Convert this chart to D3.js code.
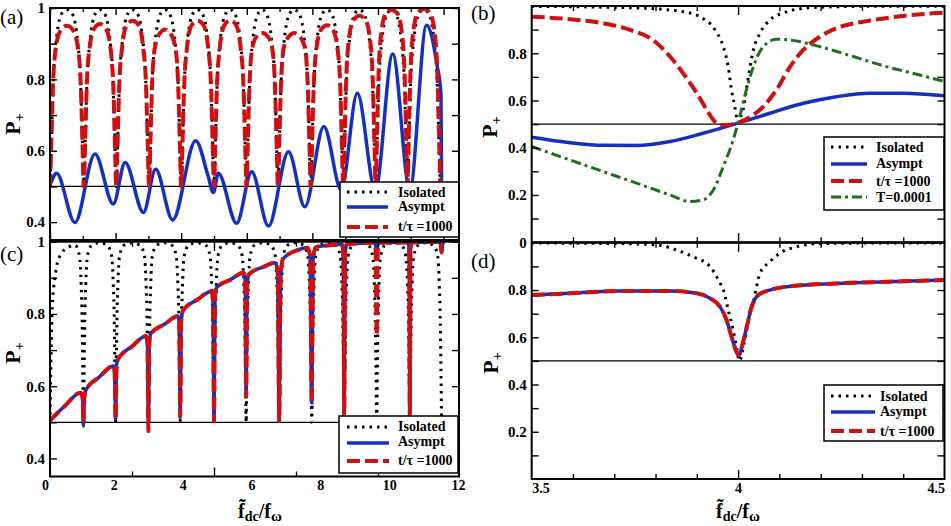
<!DOCTYPE html>
<html>
<head>
<meta charset="utf-8">
<script src="https://cdn.jsdelivr.net/npm/d3@7"></script>
<style>
body { margin: 0; background: #fff; }
svg text { font-family: "Liberation Serif", "DejaVu Serif", serif !important; }
</style>
</head>
<body>
<svg id="fig" width="951" height="526" font-family="Liberation Serif"></svg>
<script>
// ---------------- data ----------------
// panel (a): P+ vs f_dc/f_w (x in resonance units)
var aIsolated = [
  [0,0.5],[0.05,0.65],[0.1,0.8],[0.18,0.9],[0.36,0.985],[0.52,0.995],
  [0.67,0.985],[0.85,0.9],[0.93,0.8],[0.98,0.65],[1.03,0.5],[1.08,0.65],[1.13,0.8],[1.21,0.9],[1.39,0.985],[1.52,0.995],
  [1.66,0.985],[1.84,0.9],[1.92,0.8],[1.97,0.65],[2.02,0.5],[2.07,0.65],[2.12,0.8],[2.2,0.9],[2.38,0.985],[2.52,0.995],
  [2.66,0.985],[2.84,0.9],[2.92,0.8],[2.97,0.65],[3.02,0.5],[3.07,0.65],[3.12,0.8],[3.2,0.9],[3.38,0.985],[3.51,0.995],
  [3.64,0.985],[3.82,0.9],[3.9,0.8],[3.95,0.65],[4.0,0.5],[4.05,0.65],[4.1,0.8],[4.18,0.9],[4.36,0.985],[4.5,0.995],
  [4.64,0.985],[4.82,0.9],[4.9,0.8],[4.95,0.65],[5.0,0.5],[5.05,0.65],[5.1,0.8],[5.18,0.9],[5.36,0.985],[5.5,0.995],
  [5.63,0.985],[5.81,0.9],[5.89,0.8],[5.94,0.65],[5.99,0.5],[6.04,0.65],[6.09,0.8],[6.17,0.9],[6.35,0.985],[6.47,0.995],
  [6.59,0.985],[6.77,0.9],[6.85,0.8],[6.9,0.65],[6.95,0.5],[7.0,0.65],[7.05,0.8],[7.13,0.9],[7.31,0.985],[7.45,0.995],
  [7.59,0.985],[7.77,0.9],[7.85,0.8],[7.9,0.65],[7.95,0.5],[8.0,0.65],[8.05,0.8],[8.13,0.9],[8.31,0.985],[8.45,0.995],
  [8.58,0.985],[8.76,0.9],[8.84,0.8],[8.89,0.65],[8.94,0.5],[8.99,0.65],[9.04,0.8],[9.12,0.9],[9.3,0.985],[9.43,0.995],
  [9.57,0.985],[9.75,0.9],[9.83,0.8],[9.88,0.65],[9.93,0.5],[9.98,0.65],[10.03,0.8],[10.11,0.9],[10.29,0.985],[10.42,0.995],
  [10.54,0.985],[10.72,0.9],[10.8,0.8],[10.85,0.65],[10.9,0.5],[10.95,0.65],[11.0,0.8],[11.08,0.9],[11.26,0.985],[11.4,0.995],
  [11.54,0.985],[11.72,0.9],[11.8,0.8],[11.85,0.65],[11.9,0.5]
];
var aAsympt = [
  [0.03,0.51],[0.2,0.537],[0.76,0.399],[1.37,0.591],[1.93,0.451],[2.29,0.567],[2.85,0.427],
  [3.22,0.548],[3.74,0.406],[4.44,0.628],[4.82,0.53],[4.98,0.483],[5.13,0.537],[5.69,0.397],
  [6.15,0.541],[6.66,0.389],[7.27,0.597],[7.77,0.443],[8.35,0.668],[8.88,0.49],[9.37,0.761],
  [9.92,0.49],[10.45,0.871],[10.97,0.49],[11.48,0.952],[11.8,0.84],[11.92,0.76],[11.94,0.5]
];
var aT1000 = [
  [0,0.5],[0.04,0.62],[0.09,0.78],[0.18,0.89],[0.33,0.938],[0.515,0.95],[0.7,0.938],[0.85,0.89],[0.94,0.78],[0.99,0.62],
  [1.03,0.5],[1.07,0.62],[1.12,0.78],[1.21,0.89],[1.35,0.943],[1.525,0.955],[1.7,0.943],[1.84,0.89],[1.93,0.78],[1.98,0.62],
  [2.02,0.5],[2.06,0.62],[2.11,0.78],[2.2,0.89],[2.34,0.952],[2.52,0.964],[2.7,0.952],[2.84,0.89],[2.93,0.78],[2.98,0.62],
  [3.02,0.5],[3.06,0.62],[3.11,0.78],[3.2,0.89],[3.34,0.928],[3.51,0.94],[3.68,0.928],[3.82,0.89],[3.91,0.78],[3.96,0.62],
  [4.0,0.5],[4.04,0.62],[4.09,0.78],[4.18,0.89],[4.32,0.952],[4.5,0.964],[4.68,0.952],[4.82,0.89],[4.91,0.78],[4.96,0.62],
  [5.0,0.5],[5.04,0.62],[5.09,0.78],[5.18,0.89],[5.32,0.953],[5.495,0.965],[5.67,0.953],[5.81,0.89],[5.9,0.78],[5.95,0.62],
  [5.99,0.5],[6.03,0.62],[6.08,0.78],[6.17,0.89],[6.3,0.92],[6.47,0.93],[6.64,0.92],[6.77,0.89],[6.86,0.78],[6.91,0.62],
  [6.95,0.5],[6.99,0.62],[7.04,0.78],[7.13,0.89],[7.28,0.92],[7.45,0.93],[7.62,0.92],[7.77,0.89],[7.86,0.78],[7.91,0.62],
  [7.95,0.5],[7.99,0.62],[8.04,0.78],[8.13,0.89],[8.27,0.94],[8.445,0.952],[8.62,0.94],[8.76,0.89],[8.85,0.78],[8.9,0.62],
  [8.94,0.5],[8.98,0.63],[9.03,0.8],[9.11,0.91],[9.25,0.966],[9.435,0.978],[9.62,0.966],[9.76,0.91],[9.84,0.8],[9.89,0.63],
  [9.93,0.5],[9.97,0.65],[10.02,0.82],[10.1,0.93],[10.24,0.985],[10.415,0.995],[10.59,0.985],[10.73,0.93],[10.81,0.82],[10.86,0.65],
  [10.9,0.5],[10.94,0.65],[10.99,0.82],[11.07,0.93],[11.22,0.987],[11.4,0.997],[11.58,0.987],[11.73,0.93],[11.81,0.82],[11.86,0.65],[11.9,0.5]
];

// panel (c)
var cIsolated = [
  [0,0.5],[0.03,0.68],[0.07,0.82],[0.15,0.9],[0.3,0.96],[0.56,0.985],
  [0.77,0.99],[0.9,0.96],[0.95,0.88],[0.98,0.78],[1.0,0.64],[1.02,0.5],[1.04,0.64],[1.06,0.78],[1.09,0.88],[1.14,0.96],[1.27,0.99],[1.51,0.997],
  [1.75,0.99],[1.88,0.96],[1.93,0.88],[1.96,0.78],[1.98,0.64],[2.0,0.5],[2.02,0.64],[2.04,0.78],[2.07,0.88],[2.12,0.96],[2.25,0.99],[2.5,0.997],
  [2.75,0.99],[2.88,0.96],[2.93,0.88],[2.96,0.78],[2.98,0.64],[3.0,0.5],[3.02,0.64],[3.04,0.78],[3.07,0.88],[3.12,0.96],[3.25,0.99],[3.49,0.997],
  [3.72,0.99],[3.85,0.96],[3.9,0.88],[3.93,0.78],[3.95,0.64],[3.97,0.5],[3.99,0.64],[4.01,0.78],[4.04,0.88],[4.09,0.96],[4.22,0.99],[4.49,0.997],
  [4.75,0.99],[4.88,0.96],[4.93,0.88],[4.96,0.78],[4.98,0.64],[5.0,0.5],[5.02,0.64],[5.04,0.78],[5.07,0.88],[5.12,0.96],[5.25,0.99],[5.49,0.997],
  [5.73,0.99],[5.86,0.96],[5.91,0.88],[5.94,0.78],[5.96,0.64],[5.98,0.5],[6.0,0.64],[6.02,0.78],[6.05,0.88],[6.1,0.96],[6.23,0.99],[6.49,0.997],
  [6.74,0.99],[6.87,0.96],[6.92,0.88],[6.95,0.78],[6.97,0.64],[6.99,0.5],[7.01,0.64],[7.03,0.78],[7.06,0.88],[7.11,0.96],[7.24,0.99],[7.49,0.997],
  [7.73,0.99],[7.86,0.96],[7.91,0.88],[7.94,0.78],[7.96,0.64],[7.98,0.5],[8.0,0.64],[8.02,0.78],[8.05,0.88],[8.1,0.96],[8.23,0.99],[8.48,0.997],
  [8.72,0.99],[8.85,0.96],[8.9,0.88],[8.93,0.78],[8.95,0.64],[8.97,0.5],[8.99,0.64],[9.01,0.78],[9.04,0.88],[9.09,0.96],[9.22,0.99],[9.47,0.997],
  [9.71,0.99],[9.84,0.96],[9.89,0.88],[9.92,0.78],[9.94,0.64],[9.96,0.5],[9.98,0.64],[10.0,0.78],[10.03,0.88],[10.08,0.96],[10.21,0.99],[10.47,0.997],
  [10.72,0.99],[10.85,0.96],[10.9,0.88],[10.93,0.78],[10.95,0.64],[10.97,0.5],[10.99,0.64],[11.01,0.78],[11.04,0.88],[11.09,0.96],[11.22,0.99],[11.46,0.997],
  [11.69,0.99],[11.82,0.96],[11.87,0.88],[11.9,0.78],[11.92,0.64],[11.94,0.5]
];
var cAsympt = [
  [0,0.505],[0.45,0.545],[0.93,0.582],[0.99,0.57],[1.02,0.49],[1.05,0.572],[1.1,0.59],
  [1.5,0.625],[1.93,0.656],[1.97,0.64],[2.0,0.51],[2.03,0.66],[2.07,0.674],
  [2.5,0.71],[2.93,0.739],[2.97,0.72],[3.0,0.5],[3.03,0.72],[3.07,0.745],
  [3.5,0.772],[3.9,0.794],[3.94,0.775],[3.97,0.517],[4.0,0.78],[4.06,0.81],
  [4.5,0.84],[4.93,0.863],[4.97,0.84],[5.0,0.503],[5.03,0.845],[5.08,0.873],
  [5.5,0.895],[5.9,0.914],[5.95,0.895],[5.98,0.572],[6.01,0.88],[6.07,0.91],
  [6.5,0.93],[6.86,0.942],[6.94,0.92],[6.99,0.503],[7.03,0.9],[7.1,0.952],
  [7.5,0.975],[7.85,0.983],[7.93,0.96],[7.98,0.554],[8.02,0.95],[8.1,0.985],
  [8.5,0.99],[8.9,0.993],[8.94,0.97],[8.97,0.517],[9.0,0.97],[9.05,0.993],
  [9.5,0.996],[9.92,0.997],[9.96,0.96],[10.0,0.997],
  [10.5,0.998],[10.93,0.998],[10.95,0.97],[10.97,0.51],[10.99,0.97],[11.02,0.998],
  [11.5,0.999],[11.9,0.999],[11.94,0.97],[11.98,0.999],[12.04,0.999]
];
var cT1000 = [
  [0,0.505],[0.45,0.545],[0.93,0.582],[0.99,0.57],[1.02,0.5],[1.05,0.572],[1.1,0.59],
  [1.5,0.625],[1.93,0.656],[1.97,0.64],[2.0,0.51],[2.03,0.66],[2.07,0.674],
  [2.5,0.71],[2.93,0.739],[2.97,0.72],[3.0,0.475],[3.03,0.72],[3.07,0.745],
  [3.5,0.772],[3.9,0.794],[3.94,0.775],[3.97,0.517],[4.0,0.78],[4.06,0.81],
  [4.5,0.84],[4.93,0.863],[4.97,0.84],[5.0,0.503],[5.03,0.845],[5.08,0.873],
  [5.5,0.895],[5.9,0.914],[5.95,0.895],[5.98,0.572],[6.01,0.88],[6.07,0.91],
  [6.5,0.93],[6.86,0.942],[6.94,0.92],[6.99,0.503],[7.03,0.9],[7.1,0.952],
  [7.5,0.975],[7.85,0.983],[7.93,0.96],[7.98,0.554],[8.02,0.95],[8.1,0.985],
  [8.5,0.99],[8.9,0.993],[8.94,0.97],[8.97,0.517],[9.0,0.97],[9.05,0.993],
  [9.5,0.996],[9.92,0.997],[9.96,0.74],[10.0,0.997],
  [10.5,0.998],[10.93,0.998],[10.95,0.97],[10.97,0.51],[10.99,0.97],[11.02,0.998],
  [11.5,0.999],[11.9,0.999],[11.94,0.97],[11.98,0.999],[12.04,0.999]
];

// panel (b): zoom around the 4th resonance
var bIsolated = [
  [3.5,0.998],[3.6,0.997],[3.7,0.994],[3.78,0.99],[3.835,0.983],[3.867,0.976],[3.907,0.955],
  [3.944,0.899],[3.964,0.828],[3.976,0.743],[3.984,0.645],[3.992,0.574],[3.996,0.532],[4.001,0.505],
  [4.008,0.54],[4.012,0.56],[4.02,0.645],[4.029,0.743],[4.037,0.814],[4.053,0.885],[4.077,0.941],
  [4.109,0.97],[4.157,0.99],[4.24,0.997],[4.35,0.999],[4.5,0.999]
];
var bAsympt = [
  [3.5,0.444],[3.593,0.421],[3.673,0.41],[3.754,0.409],[3.835,0.426],[3.915,0.461],[4.0,0.504],
  [4.077,0.546],[4.158,0.588],[4.238,0.616],[4.319,0.631],[4.4,0.631],[4.5,0.62]
];
var bT1000 = [
  [3.5,0.955],[3.593,0.944],[3.673,0.927],[3.738,0.899],[3.794,0.856],[3.835,0.786],[3.867,0.715],
  [3.9,0.631],[3.924,0.56],[3.944,0.51],[3.964,0.496],[3.988,0.5],[4.0,0.506],[4.037,0.539],
  [4.061,0.574],[4.093,0.645],[4.126,0.743],[4.158,0.814],[4.198,0.87],[4.238,0.906],[4.319,0.938],
  [4.4,0.958],[4.5,0.972]
];
var bT0001 = [
  [3.5,0.405],[3.593,0.348],[3.673,0.299],[3.754,0.25],[3.835,0.2],[3.884,0.172],[3.915,0.179],
  [3.94,0.221],[3.964,0.32],[3.988,0.433],[4.004,0.532],[4.02,0.645],[4.037,0.743],[4.061,0.828],
  [4.093,0.859],[4.126,0.856],[4.198,0.828],[4.279,0.786],[4.36,0.743],[4.44,0.708],[4.5,0.68]
];

// panel (d)
var dIsolated = [
  [3.5,0.999],[3.7,0.997],[3.803,0.991],[3.851,0.969],[3.891,0.941],[3.932,0.899],[3.952,0.843],
  [3.968,0.779],[3.976,0.716],[3.988,0.631],[3.996,0.56],[4.003,0.5],[4.016,0.588],[4.029,0.701],
  [4.037,0.751],[4.053,0.871],[4.077,0.92],[4.101,0.956],[4.142,0.983],[4.198,0.997],[4.35,0.999],[4.5,0.999]
];
var dAsympt = [
  [3.5,0.779],[3.593,0.786],[3.714,0.796],[3.835,0.796],[3.9,0.786],[3.932,0.765],[3.956,0.73],
  [3.972,0.673],[3.984,0.603],[3.996,0.539],[4.002,0.521],[4.008,0.553],[4.021,0.645],[4.033,0.73],
  [4.049,0.779],[4.077,0.8],[4.117,0.814],[4.238,0.828],[4.36,0.835],[4.5,0.842]
];
var dT1000 = [
  [3.5,0.779],[3.593,0.786],[3.714,0.796],[3.835,0.796],[3.9,0.786],[3.932,0.765],[3.956,0.73],
  [3.972,0.673],[3.984,0.603],[3.996,0.539],[4.002,0.525],[4.008,0.553],[4.021,0.645],[4.033,0.73],
  [4.049,0.779],[4.077,0.8],[4.117,0.814],[4.238,0.828],[4.36,0.835],[4.5,0.842]
];

// tick labels
var acYLabels = [0.4, 0.6, 0.8, 1];
var bYLabels = [0, 0.2, 0.4, 0.6, 0.8];
var dYLabels = [0.2, 0.4, 0.6, 0.8];
var cXLabels = [0, 2, 4, 6, 8, 10, 12];
var dXLabels = [3.5, 4, 4.5];

// ---------------- drawing ----------------
var FONT = "Liberation Serif, DejaVu Serif, serif";
var svg = d3.select("#fig");
var defs = svg.append("defs");

var xAC = d3.scaleLinear().domain([0, 12.47]).range([50, 459]);
var xLab = d3.scaleLinear().domain([0, 12]).range([45, 458]);   // printed labels are offset from the data axis
var yA = d3.scaleLinear().domain([0.35, 1]).range([240, 8]);
var yC = d3.scaleLinear().domain([0.35, 1]).range([476.5, 241.7]);
var xBD = d3.scaleLinear().domain([3.5, 4.5]).range([531.7, 944.5]);
var yB = d3.scaleLinear().domain([0, 1]).range([242.2, 6]);
var yD = d3.scaleLinear().domain([0, 1]).range([479, 242.8]);

var styles = {
  iso:   {stroke: "#000",    width: 3,   dash: "2.5,5"},
  asy:   {stroke: "#1530c0", width: 3.5, dash: null},
  t1000: {stroke: "#d01010", width: 4,   dash: "13,5"},
  t0001: {stroke: "#1f6e1f", width: 3,   dash: "10,4,3,4"}
};
var names = {iso: "Isolated", asy: "Asympt", t1000: "t/\u03c4 =1000", t0001: "T=0.0001"};

function fmtY(d) { return (d === 0 || d === 1) ? String(d) : d3.format(".1f")(d); }

function styled(sel, st) {
  sel.attr("fill", "none").attr("stroke", st.stroke).attr("stroke-width", st.width);
  if (st.dash) sel.attr("stroke-dasharray", st.dash);
  return sel;
}

function ticks(gen, scale, values, size, tx, ty) {
  var g = svg.append("g").attr("transform", "translate(" + tx + "," + ty + ")")
    .call(gen(scale).tickValues(values).tickSize(-size).tickFormat(""));
  g.select(".domain").remove();
  g.selectAll("line").attr("stroke", "#000").attr("stroke-width", 1.4);
  return g;
}

function labels(gen, scale, values, pad, tx, ty, fmt, size) {
  var g = svg.append("g").attr("transform", "translate(" + tx + "," + ty + ")")
    .call(gen(scale).tickValues(values).tickSize(0).tickPadding(pad).tickFormat(fmt))
    .attr("font-family", FONT);
  g.select(".domain").remove();
  g.selectAll("line").remove();
  g.selectAll("text").attr("font-family", FONT).attr("font-weight", "bold")
    .attr("font-size", size).attr("fill", "#000");
  return g;
}

function panel(p) {
  var x = p.x, y = p.y;
  var x0 = x.range()[0], x1 = x.range()[1], yb = y.range()[0], yt = y.range()[1];

  defs.append("clipPath").attr("id", "clip-" + p.id)
    .append("rect").attr("x", x0).attr("y", yt).attr("width", x1 - x0).attr("height", yb - yt);

  var g = svg.append("g").attr("clip-path", "url(#clip-" + p.id + ")");
  g.append("line").attr("x1", x0).attr("x2", x1).attr("y1", y(0.5)).attr("y2", y(0.5))
    .attr("stroke", "#000").attr("stroke-width", 1.3);

  var line = d3.line().x(function(d){ return x(d[0]); }).y(function(d){ return y(d[1]); })
    .curve(d3.curveMonotoneX);
  p.series.forEach(function(s) {
    styled(g.append("path").attr("d", line(s.data)), styles[s.key]);
  });

  // ticks on all four sides, pointing inwards
  ticks(d3.axisLeft, y, p.yTicks, 7, x0, 0);
  ticks(d3.axisRight, y, p.yTicks, 7, x1, 0);
  p.xTicks.forEach(function(t) {
    ticks(d3.axisBottom, x, t.v, t.len, 0, yb);
    ticks(d3.axisTop, x, t.v, t.len, 0, yt);
  });

  labels(d3.axisLeft, y, p.yLabels, 5, x0, 0, fmtY, 15);

  // legend
  var L = p.legend;
  svg.append("rect").attr("x", L.box[0]).attr("y", L.box[1])
    .attr("width", L.box[2] - L.box[0]).attr("height", L.box[3] - L.box[1])
    .attr("fill", "#fff").attr("stroke", "#000").attr("stroke-width", 1.5);
  p.series.forEach(function(s, i) {
    var r = L.rows[i];
    styled(svg.append("line").attr("x1", L.sx[0]).attr("x2", L.sx[1]).attr("y1", r[0]).attr("y2", r[0]), styles[s.key]);
    svg.append("text").attr("x", L.tx).attr("y", r[1]).attr("font-family", FONT)
      .attr("font-size", 14).attr("font-weight", "bold").text(names[s.key]);
  });

  svg.append("rect").attr("x", x0).attr("y", yt).attr("width", x1 - x0).attr("height", yb - yt)
    .attr("fill", "none").attr("stroke", "#000").attr("stroke-width", 2);

  // panel tag and y title
  svg.append("text").attr("x", p.tag[0]).attr("y", p.tag[1]).attr("font-family", FONT)
    .attr("font-size", 21).text(p.tagText);
  var yt2 = svg.append("text").attr("transform", "translate(" + p.ytitle[0] + "," + p.ytitle[1] + ") rotate(-90)")
    .attr("text-anchor", "middle").attr("font-family", FONT).attr("font-size", 22).attr("font-weight", "bold");
  yt2.append("tspan").text("P");
  yt2.append("tspan").attr("font-size", 14).attr("dy", 4).text("+");
}

var acYTicks = [0.4, 0.5, 0.6, 0.7, 0.8, 0.9, 1.0];
var bdYTicks = [0.1, 0.2, 0.3, 0.4, 0.5, 0.6, 0.7, 0.8, 0.9];
var bdMinor = [3.6, 3.7, 3.8, 3.9, 4.1, 4.2, 4.3, 4.4];

panel({
  id: "a", x: xAC, y: yA, tagText: "(a)", tag: [0, 24], ytitle: [20, 124],
  series: [
    {key: "iso", data: aIsolated},
    {key: "asy", data: aAsympt},
    {key: "t1000", data: aT1000}
  ],
  yTicks: acYTicks, yLabels: acYLabels,
  xTicks: [{v: [0, 2, 4, 6, 8, 10, 12], len: 7}, {v: [1, 3, 5, 7, 9, 11], len: 4}],
  legend: {box: [340, 182, 459, 237], sx: [347, 388], tx: 398, rows: [[192, 196.5], [207, 211], [227, 231]]}
});

panel({
  id: "c", x: xAC, y: yC, tagText: "(c)", tag: [0, 261], ytitle: [20, 353],
  series: [
    {key: "iso", data: cIsolated},
    {key: "asy", data: cAsympt},
    {key: "t1000", data: cT1000}
  ],
  yTicks: acYTicks, yLabels: acYLabels,
  xTicks: [{v: [5], len: 9}, {v: [2.5, 7.5, 10], len: 5}],
  legend: {box: [339, 416, 458, 473], sx: [347, 389], tx: 398, rows: [[427, 431], [443, 446], [461, 465]]}
});

panel({
  id: "b", x: xBD, y: yB, tagText: "(b)", tag: [471, 20], ytitle: [497, 127],
  series: [
    {key: "iso", data: bIsolated},
    {key: "asy", data: bAsympt},
    {key: "t1000", data: bT1000},
    {key: "t0001", data: bT0001}
  ],
  yTicks: bdYTicks, yLabels: bYLabels,
  xTicks: [{v: [4], len: 9}, {v: bdMinor, len: 5}],
  legend: {box: [824, 137, 944, 210], sx: [831, 867], tx: 876, rows: [[147, 152], [164, 168], [181, 186], [197, 202]]}
});

panel({
  id: "d", x: xBD, y: yD, tagText: "(d)", tag: [471, 268], ytitle: [498, 363],
  series: [
    {key: "iso", data: dIsolated},
    {key: "asy", data: dAsympt},
    {key: "t1000", data: dT1000}
  ],
  yTicks: bdYTicks, yLabels: dYLabels,
  xTicks: [{v: [4], len: 9}, {v: bdMinor, len: 5}],
  legend: {box: [824, 385, 943, 441], sx: [831, 875], tx: 880, rows: [[396, 401], [412, 416], [431, 436]]}
});

// x tick labels
labels(d3.axisBottom, xLab, cXLabels, 4, 0, 476.5, d3.format("d"), 14);
var dl = labels(d3.axisBottom, xBD, dXLabels, 4, 0, 479, function(d){ return String(d); }, 14);
dl.selectAll("text").attr("text-anchor", function(d){ return d === 3.5 ? "start" : d === 4.5 ? "end" : "middle"; });

// x titles: f~_dc / f_w  (tilde as a combining mark on the first f)
[260, 738].forEach(function(cx) {
  var t = svg.append("text").attr("x", cx).attr("y", 518).attr("text-anchor", "middle")
    .attr("font-family", FONT).attr("font-size", 20).attr("font-weight", "bold");
  t.append("tspan").text("f\u0303");
  t.append("tspan").attr("font-size", 14).attr("dy", 3).text("dc");
  t.append("tspan").attr("dy", -3).text("/f");
  t.append("tspan").attr("font-size", 15).attr("dy", 3).text("\u03c9");
});
</script>
</body>
</html>
